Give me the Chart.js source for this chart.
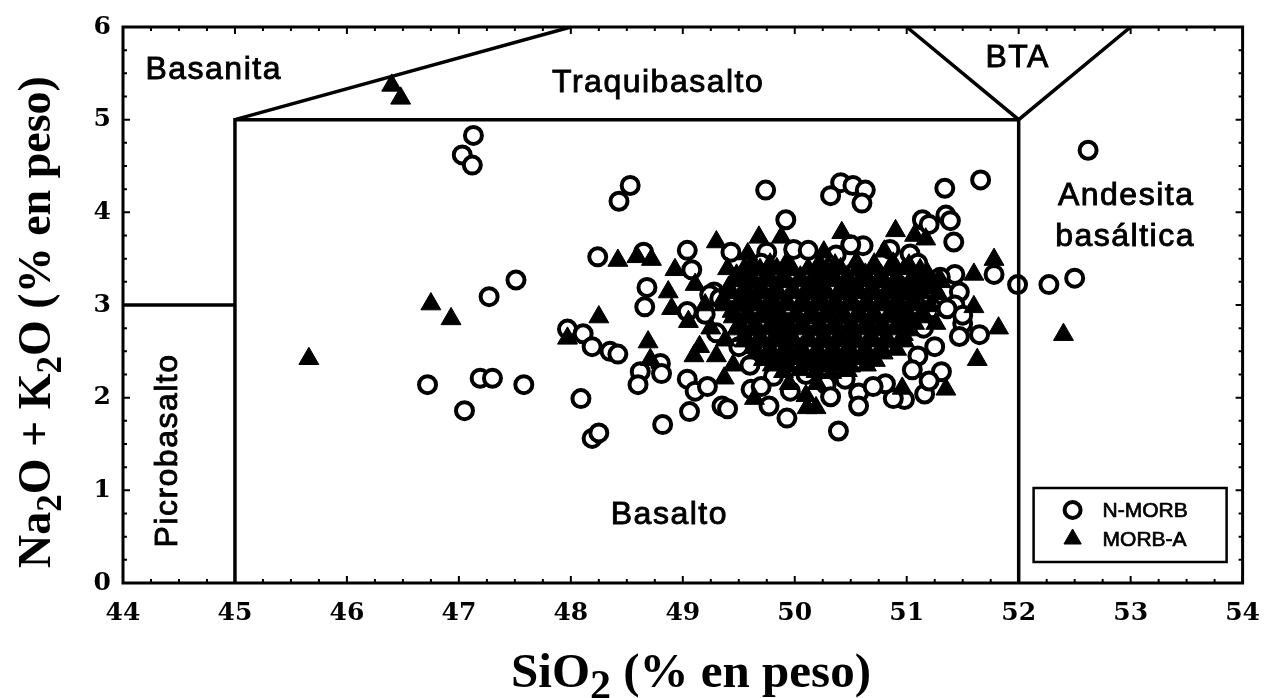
<!DOCTYPE html>
<html lang="es">
<head>
<meta charset="utf-8">
<title>Diagrama TAS – N-MORB y MORB-A</title>
<script src="https://cdn.jsdelivr.net/npm/chart.js@4.4.1/dist/chart.umd.min.js"></script>
<style>
  html, body { margin: 0; padding: 0; background: #fff; }
  #tas { display: block; }
</style>
</head>
<body>
<canvas id="tas" width="1275" height="698"></canvas>
<script>
// SERIES: [SiO2, Na2O + K2O] (% en peso)
// =============================================================================

const nMorb = [
  [47.13, 4.83], [47.03, 4.62], [47.12, 4.51], [47.51, 3.27], [47.27, 3.09],
  [46.72, 2.14], [47.19, 2.21], [47.30, 2.21], [47.58, 2.14], [47.05, 1.86],
  [48.53, 4.29], [48.43, 4.12], [49.74, 4.24], [49.92, 3.92], [48.24, 3.52],
  [48.65, 3.57], [49.04, 3.59], [49.08, 3.38], [48.68, 3.19], [48.66, 2.98],
  [49.43, 3.57], [49.75, 3.57], [49.28, 3.14], [50.41, 4.32], [50.52, 4.29],
  [50.32, 4.18], [50.63, 4.24], [50.60, 4.10], [51.34, 4.26], [51.66, 4.35],
  [51.14, 3.92], [51.20, 3.87], [51.35, 3.97], [51.39, 3.91], [51.42, 3.68],
  [51.78, 3.33], [51.43, 3.33], [51.99, 3.22], [52.27, 3.22], [52.50, 3.29],
  [52.62, 4.67], [47.97, 2.74], [48.11, 2.69], [48.19, 2.55], [48.35, 2.50],
  [48.42, 2.47], [48.09, 1.99], [48.19, 1.56], [48.25, 1.62], [48.82, 1.71],
  [48.62, 2.28], [48.60, 2.14], [48.80, 2.37], [48.81, 2.26], [49.04, 2.20],
  [49.11, 2.07], [49.06, 1.85], [49.35, 1.91], [49.40, 1.88], [49.22, 2.12],
  [49.61, 2.09], [49.77, 1.91], [49.93, 1.78], [49.81, 2.23], [50.39, 1.64],
  [51.31, 2.28], [51.50, 2.80], [51.65, 2.68], [51.47, 2.66], [51.16, 2.04],
  [50.98, 1.98], [50.88, 1.99], [50.81, 2.15], [50.57, 2.05], [50.57, 1.91],
  [50.28, 2.14], [50.32, 2.01], [49.96, 2.07], [51.20, 2.18], [49.99, 3.60],
  [50.12, 3.59], [50.37, 3.54], [50.61, 3.64], [51.03, 3.55], [50.98, 3.16],
  [51.20, 3.11], [51.47, 3.14], [51.43, 3.00], [51.50, 2.89], [51.23, 2.96],
  [51.36, 2.96], [49.24, 3.11], [49.33, 3.07], [49.04, 2.93], [50.32, 3.39],
  [49.70, 2.12], [51.10, 2.45], [51.25, 2.55], [51.05, 2.30], [50.70, 2.12],
  [50.45, 2.20], [50.10, 2.25], [49.85, 2.40], [49.60, 2.35], [49.50, 2.55],
  [49.30, 2.70], [49.20, 2.90], [49.45, 3.05], [51.15, 2.75], [51.30, 3.30],
  [51.10, 3.45], [50.85, 3.60], [50.50, 3.65], [49.70, 3.45],
];

const morbA = [
  [46.40, 5.37], [46.48, 5.23], [46.75, 3.01], [46.93, 2.85], [45.66, 2.42],
  [48.42, 3.48], [48.59, 3.52], [48.72, 3.49], [48.93, 3.38], [49.30, 3.68],
  [49.68, 3.73], [49.88, 3.73], [49.58, 3.55], [49.40, 3.39], [49.58, 3.35],
  [48.25, 2.87], [50.42, 3.78], [50.90, 3.80], [51.07, 3.75], [51.17, 3.71],
  [51.78, 3.49], [51.60, 3.33], [51.60, 2.98], [51.29, 3.28], [51.82, 2.75],
  [52.40, 2.68], [47.97, 2.64], [48.69, 2.60], [48.71, 2.41], [49.37, 2.21],
  [49.64, 1.99], [50.11, 1.89], [51.63, 2.41], [51.35, 2.09], [51.26, 2.80],
  [50.96, 2.10], [50.19, 1.89], [48.87, 3.14], [49.11, 3.22], [48.90, 2.96],
  [49.20, 3.00], [49.25, 2.75], [49.15, 2.55], [49.30, 2.45], [49.05, 2.82],
  [49.38, 2.62], [49.45, 2.35], [49.10, 2.45], [49.95, 2.15], [50.10, 2.02],
  [50.05, 2.30], [49.90, 2.28], [50.20, 2.15], [50.26, 3.57], [50.80, 3.58],
  [49.62, 3.45], [49.78, 3.44], [49.93, 3.46], [50.22, 3.45], [50.36, 3.43],
  [50.55, 3.46], [50.71, 3.44], [50.88, 3.45], [51.02, 3.43],
  [49.55, 3.39], [49.69, 3.38], [49.84, 3.39], [49.98, 3.38], [50.12, 3.39],
  [50.28, 3.38], [50.41, 3.39], [50.56, 3.38], [50.70, 3.39], [50.84, 3.38],
  [50.98, 3.39], [51.12, 3.38],
  [49.48, 3.32], [49.61, 3.31], [49.76, 3.33], [49.90, 3.32], [50.05, 3.30],
  [50.19, 3.33], [50.34, 3.32], [50.47, 3.31], [50.63, 3.33], [50.77, 3.32],
  [50.91, 3.30], [51.06, 3.32], [51.19, 3.33],
  [49.48, 3.26], [49.62, 3.25], [49.76, 3.26], [49.91, 3.25], [50.05, 3.26],
  [50.19, 3.25], [50.33, 3.26], [50.48, 3.25], [50.62, 3.26], [50.76, 3.25],
  [50.90, 3.26], [51.05, 3.25], [51.18, 3.26], [51.31, 3.25],
  [49.41, 3.19], [49.55, 3.18], [49.69, 3.20], [49.83, 3.19], [49.98, 3.17],
  [50.12, 3.20], [50.26, 3.19], [50.41, 3.18], [50.55, 3.20], [50.69, 3.19],
  [50.84, 3.17], [50.97, 3.19], [51.12, 3.20], [51.25, 3.18],
  [49.43, 3.13], [49.58, 3.12], [49.72, 3.13], [49.86, 3.12], [50.00, 3.13],
  [50.15, 3.12], [50.29, 3.13], [50.43, 3.12], [50.57, 3.13], [50.71, 3.12],
  [50.85, 3.13], [50.99, 3.12], [51.13, 3.13], [51.28, 3.12],
  [49.36, 3.06], [49.51, 3.05], [49.64, 3.07], [49.79, 3.06], [49.93, 3.04],
  [50.07, 3.06], [50.22, 3.07], [50.36, 3.05], [50.50, 3.06], [50.64, 3.04],
  [50.78, 3.07], [50.92, 3.06], [51.06, 3.05],
  [49.37, 3.00], [49.51, 2.99], [49.65, 3.00], [49.79, 2.99], [49.93, 3.00],
  [50.08, 2.99], [50.22, 3.00], [50.36, 2.99], [50.50, 3.00], [50.64, 2.99],
  [50.78, 3.00], [50.93, 2.99], [51.07, 3.00], [51.21, 2.99],
  [49.44, 2.93], [49.58, 2.92], [49.72, 2.94], [49.86, 2.93], [50.01, 2.91],
  [50.15, 2.93], [50.29, 2.94], [50.43, 2.92], [50.57, 2.93], [50.71, 2.91],
  [50.86, 2.94], [51.00, 2.93], [51.14, 2.92],
  [49.45, 2.87], [49.58, 2.86], [49.73, 2.87], [49.87, 2.86], [50.01, 2.87],
  [50.15, 2.86], [50.29, 2.87], [50.44, 2.86], [50.58, 2.87], [50.72, 2.86],
  [50.86, 2.87], [51.00, 2.86], [51.14, 2.87],
  [49.51, 2.80], [49.65, 2.79], [49.80, 2.81], [49.94, 2.80], [50.08, 2.78],
  [50.22, 2.80], [50.36, 2.81], [50.51, 2.79], [50.65, 2.80], [50.79, 2.78],
  [50.93, 2.81], [51.07, 2.80],
  [49.48, 2.74], [49.62, 2.73], [49.76, 2.74], [49.90, 2.73], [50.04, 2.74],
  [50.19, 2.73], [50.33, 2.74], [50.47, 2.73], [50.61, 2.74], [50.75, 2.73],
  [50.89, 2.74], [51.03, 2.73],
  [49.55, 2.67], [49.69, 2.66], [49.83, 2.68], [49.97, 2.67], [50.12, 2.65],
  [50.26, 2.67], [50.40, 2.68], [50.54, 2.66], [50.68, 2.67], [50.82, 2.65],
  [50.97, 2.68],
  [49.55, 2.61], [49.71, 2.60], [49.85, 2.61], [49.99, 2.60], [50.13, 2.61],
  [50.27, 2.60], [50.41, 2.61], [50.56, 2.60], [50.70, 2.61], [50.84, 2.60],
  [50.98, 2.61],
  [49.64, 2.54], [49.78, 2.53], [49.92, 2.55], [50.06, 2.54], [50.20, 2.52],
  [50.34, 2.54], [50.48, 2.55], [50.63, 2.53], [50.77, 2.54], [50.91, 2.52],
  [49.65, 2.48], [49.80, 2.47], [49.94, 2.48], [50.08, 2.47], [50.22, 2.48],
  [50.36, 2.47], [50.50, 2.48], [50.65, 2.47], [50.79, 2.48],
  [49.72, 2.41], [49.87, 2.40], [50.01, 2.42], [50.15, 2.41], [50.29, 2.39],
  [50.43, 2.41], [50.58, 2.42], [50.72, 2.40],
  [49.80, 2.35], [49.94, 2.34], [50.08, 2.35], [50.22, 2.34], [50.36, 2.35],
  [50.50, 2.34], [50.64, 2.35],
  [50.19, 2.28], [50.33, 2.27], [50.47, 2.29],
];

// Field boundaries (TAS, low-silica corner)
const fieldBoundaries = [
  [[44, 3], [45, 3]],
  [[45, 0], [45, 5], [52, 5], [52, 0]],
  [[45, 5], [48, 6]],
  [[51, 6], [52, 5], [53, 6]],
];

const fieldNames = [
  { text: "Basanita", at: [44.81, 5.44] },
  { text: "Traquibasalto", at: [48.78, 5.30] },
  { text: "BTA", at: [51.99, 5.57] },
  { text: "Andesita", at: [52.96, 4.08] },
  { text: "basáltica", at: [52.95, 3.64] },
  { text: "Basalto", at: [48.88, 0.64] },
  { text: "Picrobasalto", at: [44.40, 1.43], rotate: true },
];

const xTitle = [{ t: "SiO" }, { t: "2", sub: true }, { t: " (% en peso)" }];
const yTitle = [
  { t: "Na" }, { t: "2", sub: true }, { t: "O + K" }, { t: "2", sub: true }, { t: "O (% en peso)" },
];

const SERIF = "'Liberation Serif', 'Times New Roman', serif";
const SANS = "'Liberation Sans', Arial, sans-serif";
const TICK_FONT = { family: "'DejaVu Serif', serif", weight: "bold", size: 25 };

const toPoints = (rows) => rows.map(([x, y]) => ({ x, y }));

// Text with subscripts, centred on x
const drawRich = (ctx, parts, x, y, size, subScale) => {
  const fontFor = (p) => `bold ${p.sub ? Math.round(size * subScale) : size}px ${SERIF}`;
  let total = 0;
  parts.forEach((p) => { ctx.font = fontFor(p); total += ctx.measureText(p.t).width; });
  let cx = x - total / 2;
  ctx.textAlign = "left";
  ctx.textBaseline = "alphabetic";
  parts.forEach((p) => {
    ctx.font = fontFor(p);
    ctx.fillText(p.t, cx, y + (p.sub ? size * 0.24 : 0));
    cx += ctx.measureText(p.t).width;
  });
};

// Filled text with a thin outline, so the sans labels read heavier
const heavyText = (ctx, text, x, y) => {
  ctx.fillText(text, x, y);
  ctx.strokeText(text, x, y);
};

const tasDecor = {
  id: "tasDecor",
  afterDraw(chart) {
    const { ctx, chartArea: a, scales } = chart;
    const sx = scales.x, sy = scales.y;
    ctx.save();
    ctx.strokeStyle = "#000";
    ctx.fillStyle = "#000";

    // frame
    ctx.lineWidth = 3;
    ctx.strokeRect(a.left, a.top, a.right - a.left, a.bottom - a.top);

    // inward ticks on all four sides
    ctx.lineWidth = 2;
    ctx.beginPath();
    for (let i = 0; i <= 40; i++) {
      const v = 44 + i * 0.25;
      const len = i % 4 === 0 ? 7 : 4;
      const px = sx.getPixelForValue(v);
      ctx.moveTo(px, a.bottom); ctx.lineTo(px, a.bottom - len);
      ctx.moveTo(px, a.top); ctx.lineTo(px, a.top + len);
    }
    for (let i = 0; i <= 24; i++) {
      const v = i * 0.25;
      const len = i % 4 === 0 ? 7 : 4;
      const py = sy.getPixelForValue(v);
      ctx.moveTo(a.left, py); ctx.lineTo(a.left + len, py);
      ctx.moveTo(a.right, py); ctx.lineTo(a.right - len, py);
    }
    ctx.stroke();

    // field names
    ctx.font = `32px ${SANS}`;
    ctx.lineWidth = 0.9;
    if ("letterSpacing" in ctx) ctx.letterSpacing = "1.5px";
    ctx.textAlign = "center";
    fieldNames.forEach((f) => {
      const px = sx.getPixelForValue(f.at[0]);
      const py = sy.getPixelForValue(f.at[1]);
      if (f.rotate) {
        ctx.save();
        ctx.translate(px, py);
        ctx.rotate(-Math.PI / 2);
        ctx.textBaseline = "middle";
        heavyText(ctx, f.text, 0, 0);
        ctx.restore();
      } else {
        ctx.textBaseline = "alphabetic";
        heavyText(ctx, f.text, px, py);
      }
    });
    if ("letterSpacing" in ctx) ctx.letterSpacing = "0px";

    // axis titles
    drawRich(ctx, xTitle, 691, 687, 49, 0.85);
    ctx.save();
    ctx.translate(50, 322);
    ctx.rotate(-Math.PI / 2);
    drawRich(ctx, yTitle, 0, 0, 46, 0.75);
    ctx.restore();

    // legend box, bottom right of the plot
    const bw = 193, bh = 74;
    const bx = a.right - 16 - bw, by = a.bottom - 21 - bh;
    ctx.lineWidth = 2.5;
    ctx.strokeRect(bx, by, bw, bh);
    ctx.font = `21px ${SANS}`;
    ctx.textAlign = "left";
    ctx.textBaseline = "middle";
    chart.data.datasets.filter((d) => d.inLegend).forEach((d, i) => {
      const my = by + 22 + i * 29;
      ctx.fillStyle = d.backgroundColor;
      ctx.strokeStyle = d.borderColor;
      ctx.lineWidth = d.borderWidth;
      Chart.helpers.drawPoint(ctx, {
        pointStyle: d.pointStyle, radius: d.legendRadius, rotation: 0, borderWidth: d.borderWidth,
      }, bx + 39, my);
      ctx.fillStyle = "#000";
      ctx.strokeStyle = "#000";
      ctx.lineWidth = 0.7;
      heavyText(ctx, d.label, bx + 69, my + 1);
    });
    ctx.restore();
  },
};

const boundaryDatasets = fieldBoundaries.map((line) => ({
  type: "scatter",
  data: toPoints(line),
  showLine: true,
  borderColor: "#000",
  borderWidth: 3.5,
  pointRadius: 0,
  fill: false,
  order: 0,
}));

new Chart(document.getElementById("tas"), {
  type: "scatter",
  data: {
    datasets: [
      {
        label: "N-MORB",
        data: toPoints(nMorb),
        pointStyle: "circle",
        pointRadius: 8.5,
        legendRadius: 8,
        backgroundColor: "#fff",
        borderColor: "#000",
        borderWidth: 4,
        inLegend: true,
        order: 2,
      },
      {
        label: "MORB-A",
        data: toPoints(morbA),
        pointStyle: "triangle",
        pointRadius: 11.5,
        legendRadius: 10,
        backgroundColor: "#000",
        borderColor: "#000",
        borderWidth: 1,
        inLegend: true,
        order: 1,
      },
      ...boundaryDatasets,
    ],
  },
  options: {
    responsive: false,
    devicePixelRatio: 1,
    animation: false,
    events: [],
    layout: { padding: { top: 23, right: 22, left: 0, bottom: 0 } },
    plugins: { legend: { display: false }, tooltip: { enabled: false } },
    scales: {
      x: {
        type: "linear",
        min: 44,
        max: 54,
        afterFit: (s) => { s.height = 115; },
        ticks: { stepSize: 1, padding: 15, color: "#000", font: TICK_FONT },
        grid: { display: false, drawTicks: false },
        border: { display: false },
      },
      y: {
        type: "linear",
        min: 0,
        max: 6,
        afterFit: (s) => { s.width = 123; },
        ticks: { stepSize: 1, padding: 12, color: "#000", font: TICK_FONT },
        grid: { display: false, drawTicks: false },
        border: { display: false },
      },
    },
  },
  plugins: [tasDecor],
});
</script>
</body>
</html>
